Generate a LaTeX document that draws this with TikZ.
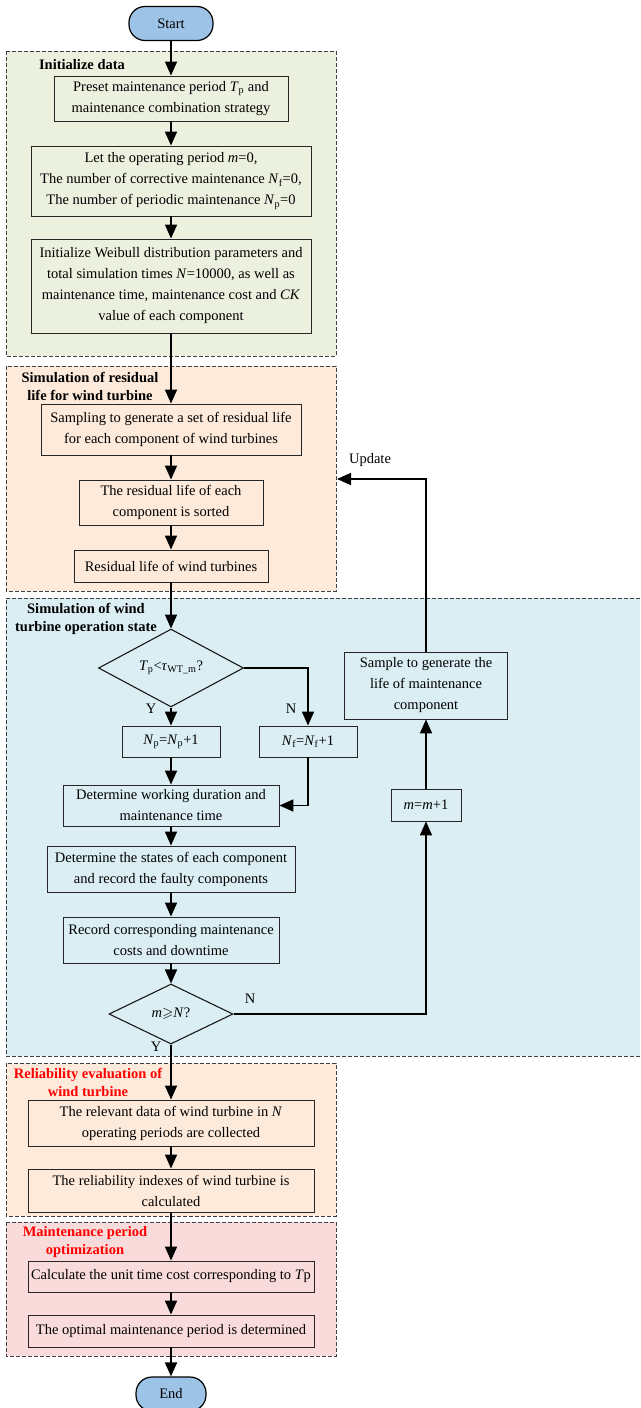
\documentclass[tikz,border=0pt]{standalone}
\usepackage{amsmath,amssymb}
\usepackage{fontspec}
\setmainfont{Liberation Serif}
\usetikzlibrary{arrows.meta,shapes.geometric,positioning}
\definecolor{termblue}{HTML}{9DC3E6}
\definecolor{initgreen}{HTML}{EBF1DE}
\definecolor{lifeorange}{HTML}{FDEADA}
\definecolor{stateblue}{HTML}{DAEEF3}
\definecolor{optpink}{HTML}{FADBDB}
\definecolor{titlered}{HTML}{FF0000}
\newcommand{\Tp}{\textit{T}\textsubscript{p}}
\newcommand{\Np}{\textit{N}\textsubscript{p}}
\newcommand{\Nf}{\textit{N}\textsubscript{f}}

\begin{document}
\begin{tikzpicture}[x=1pt,y=-1pt,
    font=\fontsize{14.5}{21}\selectfont,
    box/.style={draw=black!85,line width=0.9pt,align=center,inner sep=1pt},
    term/.style={box,draw=black,line width=1.2pt,fill=termblue,rounded corners=16pt,minimum height=34pt},
    cond/.style={diamond,draw=black!90,line width=1.1pt,inner sep=0pt},
    flow/.style={line width=1.7pt,-{Triangle[length=14pt,width=12pt]}},
    region/.style={draw=black!75,dash pattern=on 4pt off 2pt,line width=0.8pt},
    regtitle/.style={font=\fontsize{14.5}{18}\selectfont\bfseries,align=center,inner sep=1pt},
    lbl/.style={inner sep=0pt}]
  \useasboundingbox (0,0) rectangle (640,1408);
  % stage regions
  \draw[region,fill=initgreen] (6,51) rectangle (336,356);
  \draw[region,fill=lifeorange] (6,366) rectangle (336,591);
  \fill[stateblue] (6,598) rectangle (640,1056);
  \draw[region] (640,598) -- (6,598) -- (6,1056) -- (640,1056);
  \draw[region,fill=lifeorange] (6,1063) rectangle (336,1216);
  \draw[region,fill=optpink] (6,1222) rectangle (336,1356);
  % main column
  \node[term,minimum width=84pt] (start) at (171,23.5) {Start};
  \node[box,minimum width=234pt,minimum height=45pt] (preset) at (171,98.5)
    {Preset maintenance period \Tp{} and\\maintenance combination strategy};
  \node[box,minimum width=280pt,minimum height=70pt] (letm) at (171,181)
    {Let the operating period \textit{m}=0,\\The number of corrective maintenance \Nf=0,\\The number of periodic maintenance \Np=0};
  \node[box,minimum width=280pt,minimum height=94pt] (weibull) at (171,286)
    {Initialize Weibull distribution parameters and\\total simulation times \textit{N}=10000, as well as\\maintenance time, maintenance cost and \textit{CK}\\value of each component};
  \node[box,minimum width=260pt,minimum height=51pt] (sampling) at (171,429.5)
    {Sampling to generate a set of residual life\\for each component of wind turbines};
  \node[box,minimum width=184pt,minimum height=45pt] (sorted) at (171,502.5)
    {The residual life of each\\component is sorted};
  \node[box,minimum width=194pt,minimum height=32pt] (residual) at (171,566)
    {Residual life of wind turbines};
  \node[cond,minimum width=145pt,minimum height=74pt] (cmpT) at (171,668)
    {\Tp<\textit{τ}\textsubscript{WT\_m}?};
  \node[box,minimum width=98pt,minimum height=31pt] (incNp) at (171,741.5) {\Np=\Np+1};
  \node[box,minimum width=98pt,minimum height=31pt] (incNf) at (308,741.5) {\Nf=\Nf+1};
  \node[box,minimum width=216pt,minimum height=41pt] (working) at (171,805.5)
    {Determine working duration and\\maintenance time};
  \node[box,minimum width=248pt,minimum height=46pt] (states) at (171,869)
    {Determine the states of each component\\and record the faulty components};
  \node[box,minimum width=216pt,minimum height=46pt] (costs) at (171,940)
    {Record corresponding maintenance\\costs and downtime};
  \node[cond,minimum width=124pt,minimum height=60pt] (cmpN) at (171,1014)
    {\textit{m}$\geqslant$\textit{N}?};
  \node[box,minimum width=286pt,minimum height=46pt] (collect) at (171,1123)
    {The relevant data of wind turbine in \textit{N}\\operating periods are collected};
  \node[box,minimum width=286pt,minimum height=43pt] (indexes) at (171,1190.5)
    {The reliability indexes of wind turbine is\\calculated};
  \node[box,minimum width=286pt,minimum height=31pt] (unitcost) at (171,1276.5)
    {Calculate the unit time cost corresponding to \textit{T}p};
  \node[box,minimum width=286pt,minimum height=32pt] (optimal) at (171,1331)
    {The optimal maintenance period is determined};
  \node[term,minimum width=70pt] (end) at (171,1394) {End};
  % loop column
  \node[box,minimum width=163pt,minimum height=67pt] (newlife) at (426,685.5)
    {Sample to generate the\\life of maintenance\\component};
  \node[box,minimum width=70pt,minimum height=32pt] (incm) at (426,805) {\textit{m}=\textit{m}+1};
  \coordinate (update) at (337,479);
  % stage titles
  \node[regtitle,fill=initgreen] (t1) at (82,65) {Initialize data};
  \node[regtitle] (t2) at (90,386) {Simulation of residual\\life for wind turbine};
  \node[regtitle] (t3) at (86,619) {Simulation of wind\\turbine operation state};
  \node[regtitle,text=titlered] (t4) at (88,1082) {Reliability evaluation of\\wind turbine};
  \node[regtitle,text=titlered] (t5) at (85,1242) {Maintenance period\\optimization};
  % branch labels
  \node[lbl] (y1) at (151,709) {Y};
  \node[lbl] (n1) at (291,709) {N};
  \node[lbl] (n2) at (250,999) {N};
  \node[lbl] (y2) at (156,1047) {Y};
  \node[lbl] (upd) at (370,460) {Update};
  % connectors
  \draw[flow] (start) -- (preset);
  \draw[flow] (preset) -- (letm);
  \draw[flow] (letm) -- (weibull);
  \draw[flow] (weibull) -- (sampling);
  \draw[flow] (sampling) -- (sorted);
  \draw[flow] (sorted) -- (residual);
  \draw[flow] (residual) -- (cmpT);
  \draw[flow] (cmpT) -- (incNp);
  \draw[flow] (cmpT.east) -| (incNf.north);
  \draw[flow] (incNp) -- (working);
  \draw[flow] (incNf.south) |- (working.east);
  \draw[flow] (working) -- (states);
  \draw[flow] (states) -- (costs);
  \draw[flow] (costs) -- (cmpN);
  \draw[flow] (cmpN.east) -| (incm.south);
  \draw[flow] (incm) -- (newlife);
  \draw[flow] (newlife.north) |- (update);
  \draw[flow] (cmpN) -- (collect);
  \draw[flow] (collect) -- (indexes);
  \draw[flow] (indexes) -- (unitcost);
  \draw[flow] (unitcost) -- (optimal);
  \draw[flow] (optimal) -- (end);
\end{tikzpicture}
\end{document}
